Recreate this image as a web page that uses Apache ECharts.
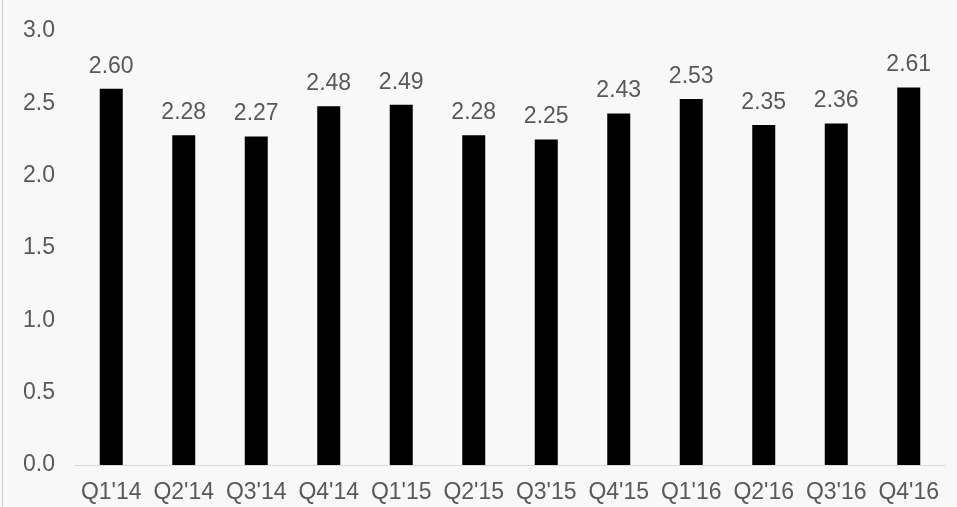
<html>
<head>
	<meta http-equiv="Content-Type" content="text/html; charset=UTF-8">
	<title>charts</title>
	<style>
		html, body { margin: 0; padding: 0; width: 100%; height: 100%; background: #f8f8f8; }
	</style>
</head>
	<body>
		<div id="quarterchart" style="height: 507px; width: 957px"></div>

        <script type="text/javascript" src="https://cdn.jsdelivr.net/npm/echarts@6/dist/echarts.min.js"></script>
        <script type="text/javascript">

    var quarters = ["Q1'14", "Q2'14", "Q3'14", "Q4'14", "Q1'15", "Q2'15", "Q3'15", "Q4'15", "Q1'16", "Q2'16", "Q3'16", "Q4'16"];
    var values = [2.60, 2.28, 2.27, 2.48, 2.49, 2.28, 2.25, 2.43, 2.53, 2.35, 2.36, 2.61];
    var yMin = 0, yMax = 3.0, yStep = 0.5;

    var myChart = echarts.init(document.getElementById('quarterchart'));

    var fontName = 'Liberation Sans';
    var textGray = '#595959';

    var option = {
        backgroundColor: '#f8f8f8',
        animation: false,
        grid: {
            left: 75,
            right: 12,
            top: 31,
            bottom: 42
        },
        graphic: [
            {
                // thin frame line on the left edge
                type: 'line',
                shape: { x1: 2.5, y1: 0, x2: 2.5, y2: 507 },
                style: { stroke: '#d0d0d0', lineWidth: 1 }
            }
        ],
        xAxis: {
            type: 'category',
            data: quarters,
            axisLine: { lineStyle: { color: '#d9d9d9', width: 1 } },
            axisTick: { show: false },
            axisLabel: {
                color: textGray,
                fontFamily: fontName,
                fontSize: 23,
                margin: 16,
                interval: 0
            }
        },
        yAxis: {
            type: 'value',
            min: yMin,
            max: yMax,
            interval: yStep,
            splitLine: { show: false },
            axisLine: { show: false },
            axisTick: { show: false },
            axisLabel: {
                color: textGray,
                fontFamily: fontName,
                fontSize: 23,
                margin: 20,
                formatter: function (v) { return v.toFixed(1); }
            }
        },
        series: [
            {
                type: 'bar',
                data: values,
                barWidth: 23,
                itemStyle: { color: '#000000' },
                label: {
                    show: true,
                    position: 'top',
                    distance: 11,
                    color: textGray,
                    fontFamily: fontName,
                    fontSize: 23,
                    formatter: function (p) { return p.value.toFixed(2); }
                }
            }
        ]
    };

    myChart.setOption(option);
	</script>
    </body>
</html>
